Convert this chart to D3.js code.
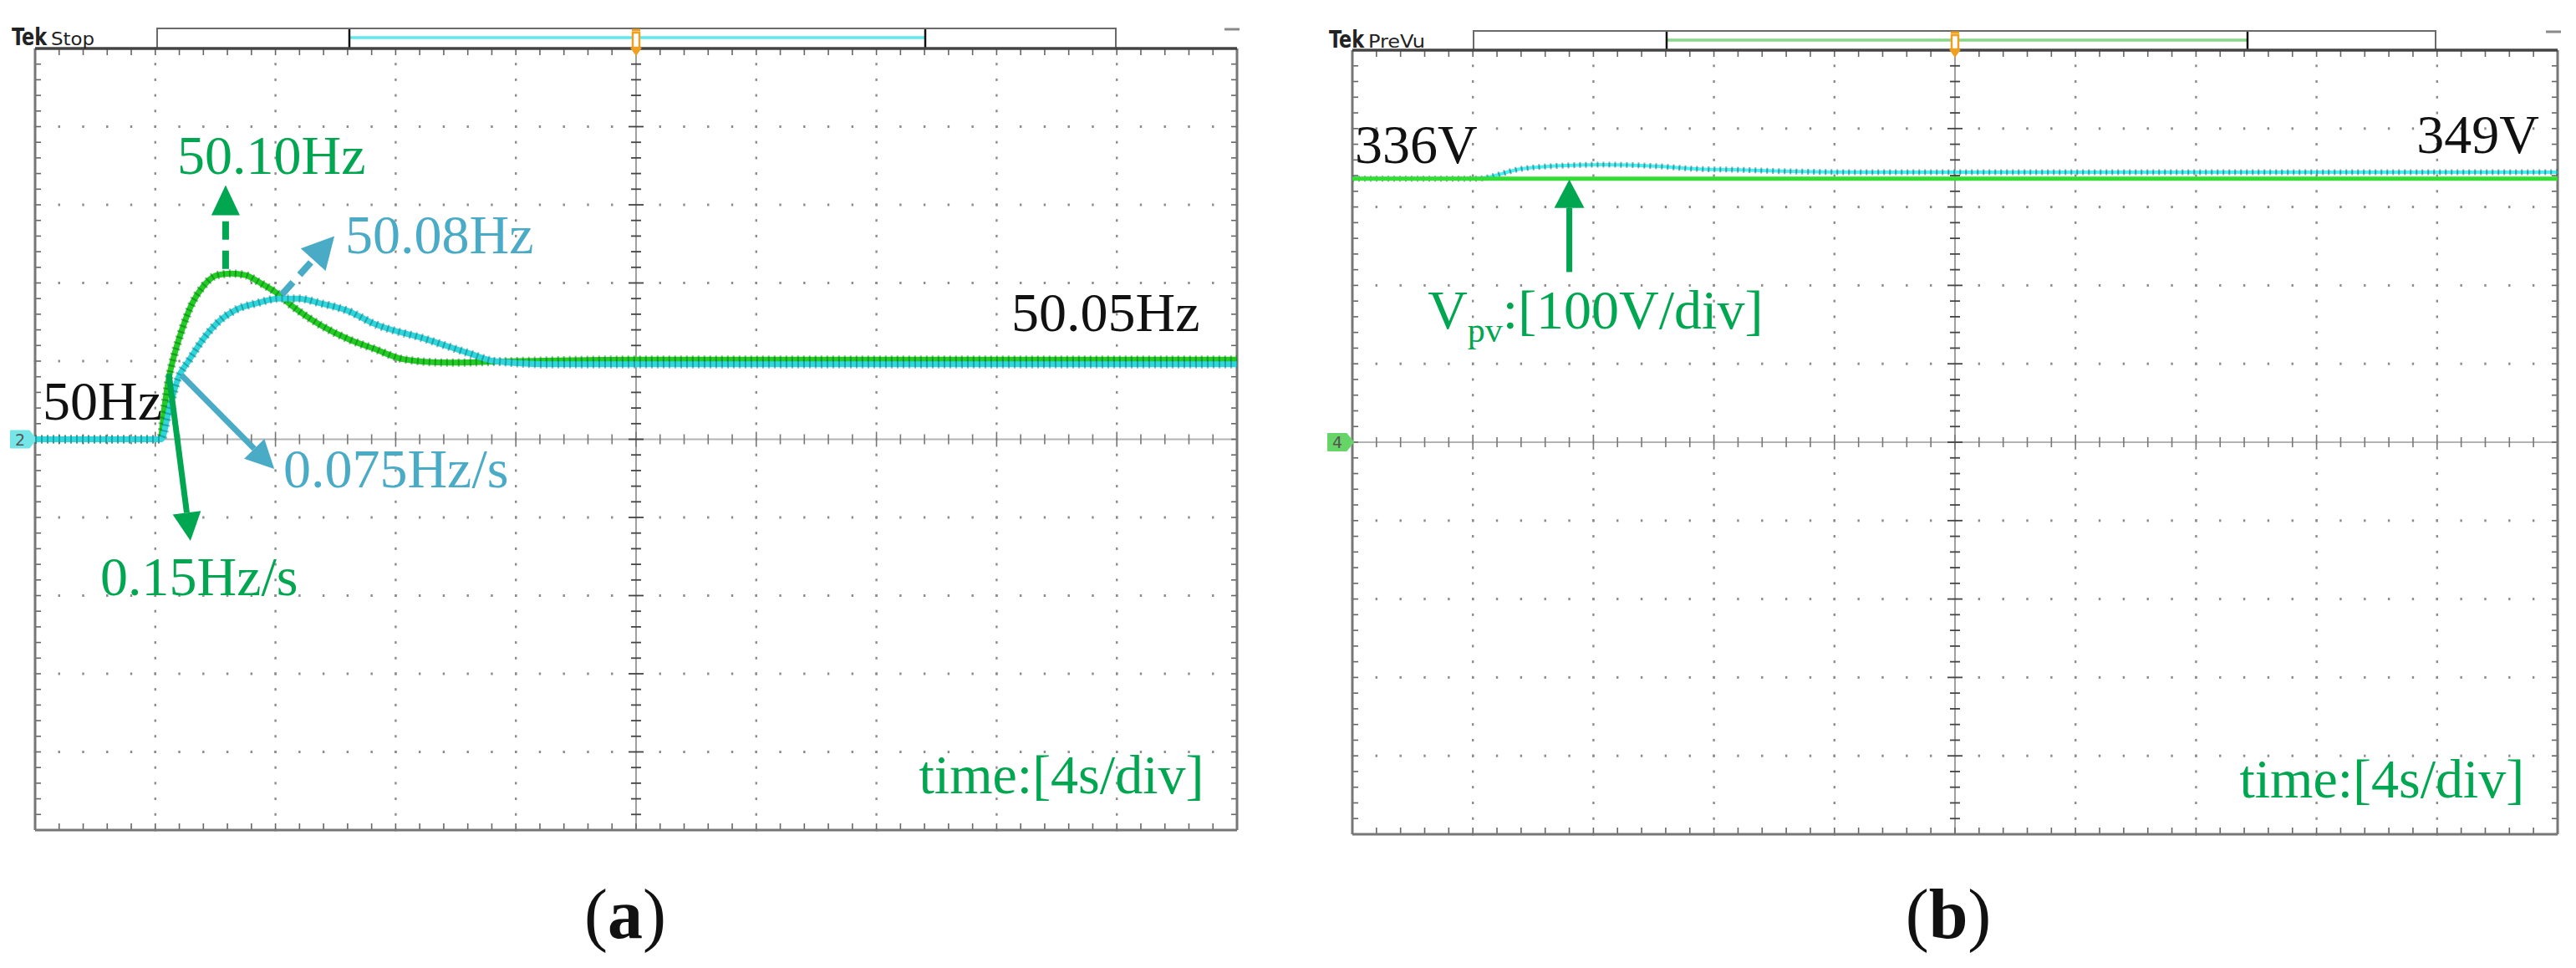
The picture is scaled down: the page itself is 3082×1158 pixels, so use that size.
<!DOCTYPE html>
<html>
<head>
<meta charset="utf-8">
<script src="https://cdn.jsdelivr.net/npm/d3@7"></script>
<style>
  body { margin: 0; background: #fff; }
  svg { display: block; }
</style>
</head>
<body>
<div id="scope"></div>
<script>
// ---- data (time in s, 4 s/div, trigger at 0) ----

// (a) grid frequency, 0.05 Hz/div around 50 Hz
var timeGreenA = [-20, -15.83, -15.7, -15.55, -15.38, -15.13, -14.77, -14.4, -13.94, -13.46, -13.0, -12.55, -11.99, -11.43, -10.5, -9.57, -8.73, -7.68, -6.26, -4, 0, 5, 10, 15, 20];
var freqGreenA = [50.0, 50.0, 50.02, 50.039, 50.053, 50.069, 50.087, 50.098, 50.105, 50.106, 50.105, 50.1005, 50.094, 50.085, 50.073, 50.064, 50.058, 50.051, 50.049, 50.05, 50.051, 50.051, 50.051, 50.051, 50.051];
var timeCyanA = [-20, -15.8, -15.55, -15.24, -14.86, -14.41, -13.85, -13.3, -12.63, -11.9, -11.24, -10.5, -9.57, -8.73, -6.98, -5.56, -4.7, -3, 0, 5, 10, 15, 20];
var freqCyanA = [50.0, 50.0, 50.018, 50.039, 50.051, 50.064, 50.076, 50.083, 50.087, 50.09, 50.09, 50.087, 50.082, 50.074, 50.064, 50.055, 50.05, 50.048, 50.048, 50.048, 50.048, 50.048, 50.048];

// (b) PV voltage, 100 V/div around 0 V
var timeVpv = [-20, -16, 0, 20];
var vpvGreen = [336, 336, 336, 336];
var timeCyanB = [-20, -15.9, -14.4, -12.9, -11.65, -9.8, -8.6, -7.3, -5.5, -3.0, 0, 10, 20];
var vCyanB = [336, 336, 348.6, 352.9, 354, 351.8, 348.6, 347.5, 345.4, 344.3, 344.3, 344.3, 344.3];

// annotations, placed in data units
var textsA = [
  {t: -15.27, v: 50.170, s: "50.10Hz", c: "#00a650"},
  {t: -9.68,  v: 50.119, s: "50.08Hz", c: "#4aabc7"},
  {t: -19.75, v: 50.0128, s: "50Hz", c: "#111"},
  {t: -17.83, v: 49.9005, s: "0.15Hz/s", c: "#00a650"},
  {t: -11.74, v: 49.9695, s: "0.075Hz/s", c: "#4aabc7"},
  {t: 12.49,  v: 50.069, s: "50.05Hz", c: "#111"}
];
var arrowsA = [
  {t1: -13.66, v1: 50.109, t2: -13.66, v2: 50.1626, c: "#00a650", dash: "22,13"},
  {t1: -11.79, v1: 50.0925, t2: -10.04, v2: 50.130, c: "#4aabc7", dash: "20,12"},
  {t1: -15.55, v1: 50.042, t2: -14.83, v2: 49.935, c: "#00a650", dash: null},
  {t1: -15.13, v1: 50.041, t2: -12.04, v2: 49.981, c: "#4aabc7", dash: null}
];
var textsB = [
  {t: -19.92, v: 356, s: "336V", c: "#111"},
  {t: 19.39,  v: 369, s: "349V", c: "#111", end: true}
];
var arrowsB = [
  {t1: -12.8, v1: 217, t2: -12.8, v2: 335, c: "#00a650", dash: null}
];

var W = 3082, H = 1158;
var svg = d3.select("#scope").append("svg")
  .attr("width", W)
  .attr("height", H);

var panels = [
  {x0: 42, x1: 1480, y0: 58, y1: 993, yDomain: [49.75, 50.25],
   bar: [188, 418, 1107, 1335], barTop: 34, barLine: "#5ee9ec",
   tag: "Stop", ch: "2", chFill: "#74e6e8", dashX: 1465, caption: "a", capX: 748},
  {x0: 1618, x1: 3060, y0: 60, y1: 998, yDomain: [-500, 500],
   bar: [1763, 1994, 2689, 2914], barTop: 37, barLine: "#88d888",
   tag: "PreVu", ch: "4", chFill: "#66d466", dashX: 3046, caption: "b", capX: 2331}
];

panels.forEach(function(p) {
  p.x = d3.scaleLinear().domain([-20, 20]).range([p.x0, p.x1]);
  p.y = d3.scaleLinear().domain(p.yDomain).range([p.y1, p.y0]);
  p.dx = d3.scaleLinear().domain([-5, 5]).range([p.x0, p.x1]);
  p.dy = d3.scaleLinear().domain([-5, 5]).range([p.y1, p.y0]);
  drawFrame(p);
});

function drawFrame(p) {
  var g = svg.append("g");
  var minor = d3.range(-25, 26).map(function(d) { return d / 5; });
  var majors = [-4, -3, -2, -1, 1, 2, 3, 4];

  // dotted graticule
  var dots = [];
  majors.forEach(function(k) {
    minor.forEach(function(m) {
      dots.push([p.dx(k), p.dy(m)]);
      dots.push([p.dx(m), p.dy(k)]);
    });
  });
  g.selectAll(".dot").data(dots).enter().append("rect")
    .attr("x", function(d) { return d[0] - 1.2; })
    .attr("y", function(d) { return d[1] - 1.5; })
    .attr("width", 2.4).attr("height", 3)
    .attr("fill", "#8c8c8c");

  // centre cross with minor ticks
  g.append("line").attr("x1", p.x0).attr("x2", p.x1)
    .attr("y1", p.dy(0)).attr("y2", p.dy(0))
    .attr("stroke", "#b4b4b4").attr("stroke-width", 2);
  g.append("line").attr("x1", p.dx(0)).attr("x2", p.dx(0))
    .attr("y1", p.y0).attr("y2", p.y1)
    .attr("stroke", "#a0a0a0").attr("stroke-width", 2);
  minor.forEach(function(m) {
    var big = Math.abs(m - Math.round(m)) < 1e-6 ? 9 : 6;
    g.append("line").attr("x1", p.dx(m)).attr("x2", p.dx(m))
      .attr("y1", p.dy(0) - big).attr("y2", p.dy(0) + big)
      .attr("stroke", "#777").attr("stroke-width", 1.6);
    g.append("line").attr("x1", p.dx(0) - big).attr("x2", p.dx(0) + big)
      .attr("y1", p.dy(m)).attr("y2", p.dy(m))
      .attr("stroke", "#444").attr("stroke-width", 1.8);
    // border ticks
    g.append("line").attr("x1", p.dx(m)).attr("x2", p.dx(m))
      .attr("y1", p.y0).attr("y2", p.y0 + 8)
      .attr("stroke", "#666").attr("stroke-width", 1.6);
    g.append("line").attr("x1", p.dx(m)).attr("x2", p.dx(m))
      .attr("y1", p.y1).attr("y2", p.y1 - 8)
      .attr("stroke", "#666").attr("stroke-width", 1.6);
    g.append("line").attr("x1", p.x0).attr("x2", p.x0 + 7)
      .attr("y1", p.dy(m)).attr("y2", p.dy(m))
      .attr("stroke", "#666").attr("stroke-width", 1.6);
    g.append("line").attr("x1", p.x1).attr("x2", p.x1 - 7)
      .attr("y1", p.dy(m)).attr("y2", p.dy(m))
      .attr("stroke", "#666").attr("stroke-width", 1.6);
  });

  // border
  g.append("line").attr("x1", p.x0).attr("x2", p.x0).attr("y1", p.y0).attr("y2", p.y1)
    .attr("stroke", "#777").attr("stroke-width", 3);
  g.append("line").attr("x1", p.x1).attr("x2", p.x1).attr("y1", p.y0).attr("y2", p.y1)
    .attr("stroke", "#777").attr("stroke-width", 3);
  g.append("line").attr("x1", p.x0).attr("x2", p.x1).attr("y1", p.y1).attr("y2", p.y1)
    .attr("stroke", "#777").attr("stroke-width", 3);

  // record bar on top
  var b = p.bar;
  g.append("rect").attr("x", b[0]).attr("y", p.barTop)
    .attr("width", b[3] - b[0]).attr("height", p.y0 - p.barTop)
    .attr("fill", "#fff").attr("stroke", "#6a6a6a").attr("stroke-width", 2);
  g.append("line").attr("x1", b[1]).attr("x2", b[2])
    .attr("y1", p.barTop + 11).attr("y2", p.barTop + 11)
    .attr("stroke", p.barLine).attr("stroke-width", 3.5);
  [b[1], b[2]].forEach(function(xx) {
    g.append("line").attr("x1", xx).attr("x2", xx)
      .attr("y1", p.barTop + 1).attr("y2", p.y0)
      .attr("stroke", "#111").attr("stroke-width", 2.5);
  });
  g.append("line").attr("x1", p.x0).attr("x2", p.x1).attr("y1", p.y0).attr("y2", p.y0)
    .attr("stroke", "#444").attr("stroke-width", 3.5);

  // trigger marker
  var tx = p.x(0);
  g.append("path")
    .attr("d", "M" + (tx - 5) + "," + (p.barTop + 2) + "h10")
    .attr("stroke", "#f0a020").attr("stroke-width", 3);
  g.append("rect").attr("x", tx - 4).attr("y", p.barTop + 5)
    .attr("width", 8).attr("height", p.y0 - p.barTop - 6)
    .attr("fill", "#fff").attr("stroke", "#f0a020").attr("stroke-width", 2.5);
  g.append("path")
    .attr("d", "M" + (tx - 7) + "," + (p.y0 - 1) + "L" + (tx + 7) + "," + (p.y0 - 1) + "L" + tx + "," + (p.y0 + 9) + "Z")
    .attr("fill", "#f0a020");

  // top-right dash
  g.append("line").attr("x1", p.dashX).attr("x2", p.dashX + 18)
    .attr("y1", p.barTop + 1).attr("y2", p.barTop + 1)
    .attr("stroke", "#8a8a8a").attr("stroke-width", 3);

  // Tek label
  var tl = g.append("text").attr("x", p.x0 - 28).attr("y", p.barTop + 20)
    .style("font-family", "'Liberation Sans Narrow', 'DejaVu Sans Condensed', 'Liberation Sans', sans-serif")
    .style("fill", "#222");
  tl.append("tspan").style("font-weight", "bold").style("font-size", "28px")
    .attr("textLength", 42).attr("lengthAdjust", "spacingAndGlyphs").text("Tek");
  tl.append("tspan").attr("dx", 5).style("font-size", "22px")
    .attr("textLength", p.tag === "Stop" ? 52 : 68).attr("lengthAdjust", "spacingAndGlyphs").text(p.tag);

  // channel marker
  var cy = p.dy(0);
  g.append("path")
    .attr("d", "M" + (p.x0 - 29) + "," + (cy - 10) + "h22l8,10l-8,10h-22z")
    .attr("fill", p.chFill).attr("stroke", p.chFill).attr("stroke-width", 2)
    .attr("stroke-linejoin", "round");
  g.append("text").attr("x", p.x0 - 18).attr("y", cy + 7)
    .attr("text-anchor", "middle")
    .style("font-family", "'DejaVu Sans', sans-serif").style("font-size", "19px")
    .style("fill", "#555").text(p.ch);

  // caption
  var cap = svg.append("text").attr("x", p.capX).attr("y", 1122)
    .attr("text-anchor", "middle")
    .style("font-family", "'Liberation Serif', serif").style("font-size", "84px")
    .style("fill", "#111");
  cap.append("tspan").text("(");
  cap.append("tspan").style("font-weight", "bold").text(p.caption);
  cap.append("tspan").text(")");

  // time/div label
  svg.append("text").attr("x", p.x(18.9)).attr("y", p.y1 - 44)
    .attr("text-anchor", "end")
    .style("font-family", "'Liberation Serif', serif").style("font-size", "66px")
    .style("fill", "#00a650").text("time:[4s/div]");
}

// scope trace: bright core with a darker speckled edge
function trace(p, ts, vs, color, dark, w) {
  var pts = ts.map(function(t, i) { return [t, vs[i]]; });
  var line = d3.line()
    .x(function(d) { return p.x(d[0]); })
    .y(function(d) { return p.y(d[1]); })
    .curve(d3.curveMonotoneX);
  svg.append("path").datum(pts).attr("d", line)
    .attr("fill", "none").attr("stroke", color).attr("stroke-width", w)
    .attr("stroke-linejoin", "round");
  svg.append("path").datum(pts).attr("d", line)
    .attr("fill", "none").attr("stroke", dark).attr("stroke-width", w + 3)
    .attr("stroke-dasharray", "2,5").attr("opacity", 0.5);
}

function arrow(p, a, headLen, headW, shaftW) {
  var x1 = p.x(a.t1), y1 = p.y(a.v1), x2 = p.x(a.t2), y2 = p.y(a.v2);
  var ang = Math.atan2(y2 - y1, x2 - x1);
  var bx = x2 - headLen * Math.cos(ang), by = y2 - headLen * Math.sin(ang);
  svg.append("line").attr("x1", x1).attr("y1", y1).attr("x2", bx).attr("y2", by)
    .attr("stroke", a.c).attr("stroke-width", shaftW)
    .attr("stroke-dasharray", a.dash);
  var px = -Math.sin(ang) * headW / 2, py = Math.cos(ang) * headW / 2;
  svg.append("path")
    .attr("d", "M" + x2 + "," + y2 + "L" + (bx + px) + "," + (by + py) + "L" + (bx - px) + "," + (by - py) + "Z")
    .attr("fill", a.c);
}

function labels(p, list) {
  list.forEach(function(d) {
    svg.append("text").attr("x", p.x(d.t)).attr("y", p.y(d.v))
      .attr("text-anchor", d.end ? "end" : "start")
      .style("font-family", "'Liberation Serif', serif").style("font-size", "66px")
      .style("fill", d.c).text(d.s);
  });
}

var pa = panels[0], pb = panels[1];

// panel (a)
trace(pa, timeGreenA, freqGreenA, "#22cc22", "#0b6b1a", 7);
trace(pa, timeCyanA, freqCyanA, "#2fd6dc", "#0f6f7a", 7);
arrowsA.forEach(function(a, i) {
  if (i === 0) arrow(pa, a, 36, 34, 8);
  else if (i === 1) arrow(pa, a, 38, 40, 8);
  else arrow(pa, a, 34, 34, 7);
});
labels(pa, textsA);

// panel (b)
trace(pb, timeCyanB, vCyanB, "#48f0f4", "#0d4f55", 4);
var lineB = d3.line()
  .x(function(d, i) { return pb.x(timeVpv[i]); })
  .y(function(d) { return pb.y(d); });
svg.append("path").datum(vpvGreen).attr("d", lineB)
  .attr("fill", "none").attr("stroke", "#33dd33").attr("stroke-width", 5);
arrowsB.forEach(function(a) { arrow(pb, a, 34, 36, 7); });
labels(pb, textsB);

// V_pv label with subscript
var vl = svg.append("text").attr("x", pb.x(-17.5)).attr("y", pb.y(145))
  .style("font-family", "'Liberation Serif', serif").style("font-size", "66px")
  .style("fill", "#00a650");
vl.append("tspan").text("V");
vl.append("tspan").attr("dy", 16).style("font-size", "42px").text("pv");
vl.append("tspan").attr("dy", -16).text(":[100V/div]");
</script>
</body>
</html>
